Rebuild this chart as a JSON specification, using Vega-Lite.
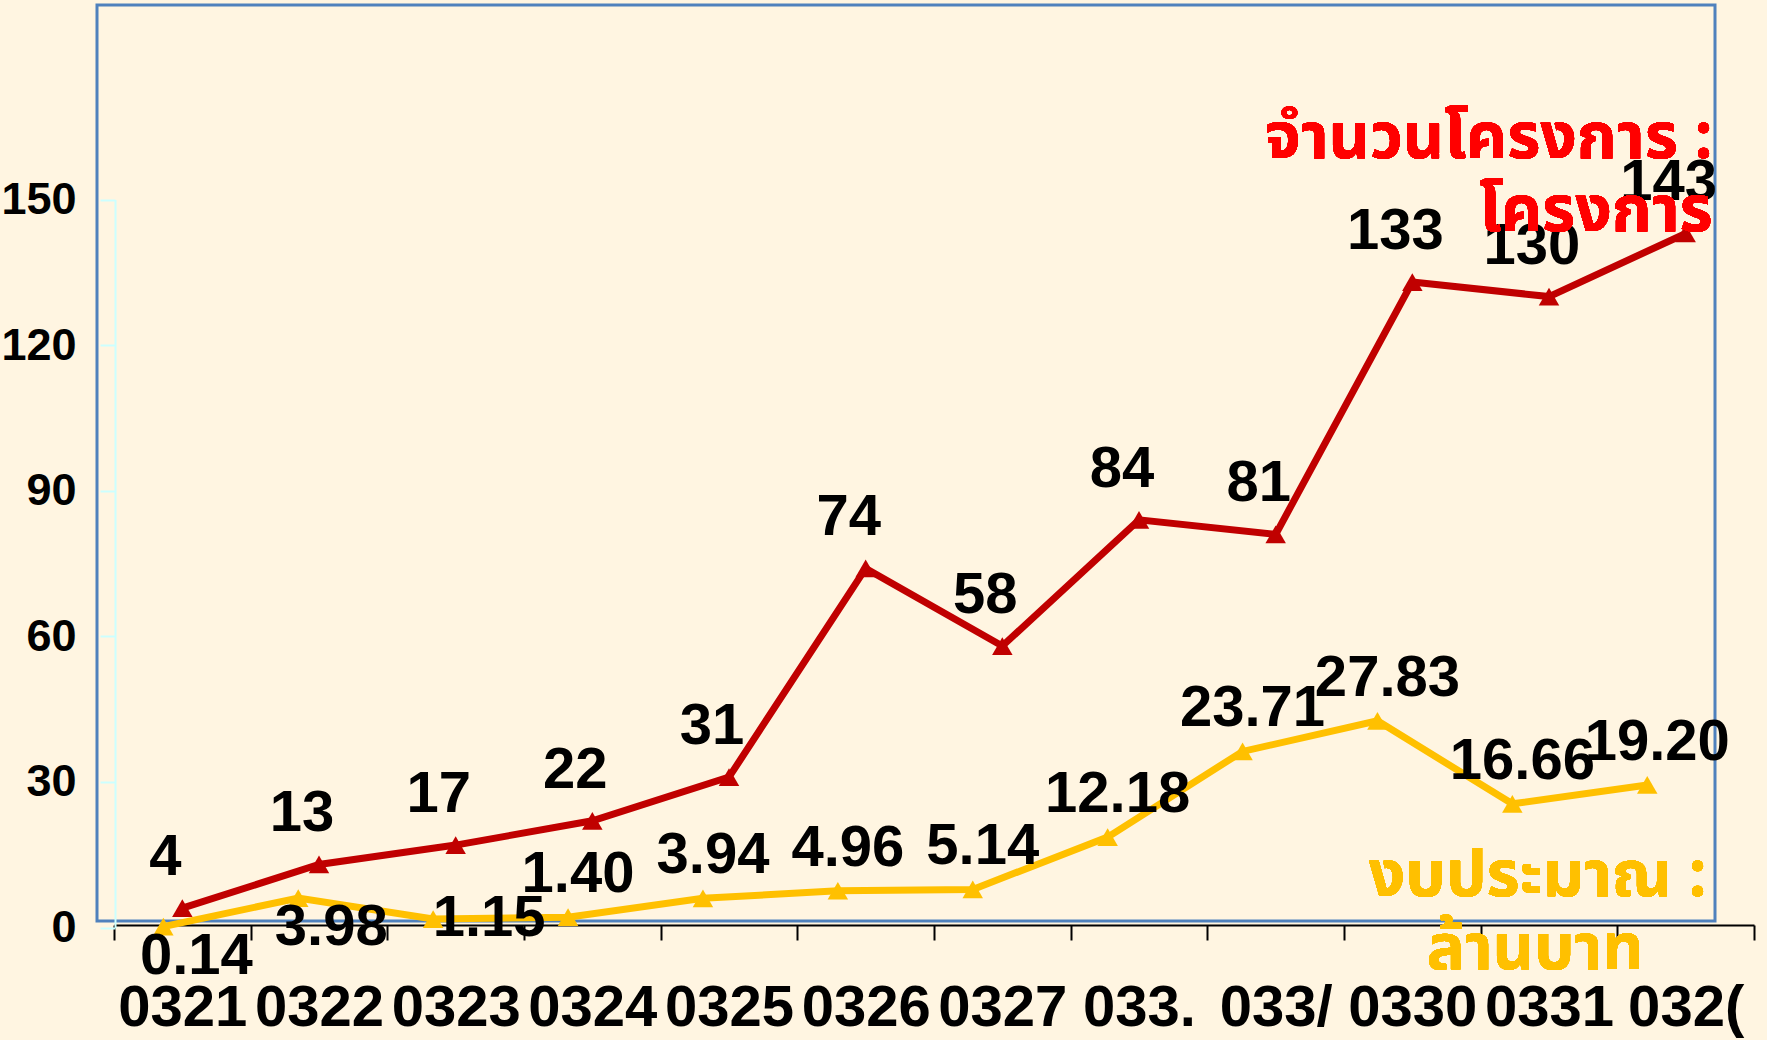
{
  "$schema": "https://vega.github.io/schema/vega-lite/v6.json",
  "width": 1618,
  "height": 916,
  "autosize": {"type": "none"},
  "padding": {"left": 97, "top": 5, "right": 52, "bottom": 119},
  "background": "#FFF5E1",
  "config": {
    "view": {"stroke": "#4F81BD", "strokeWidth": 3},
    "font": "Liberation Sans, sans-serif"
  },
  "datasets": {
    "proj": [
      {"year": "0321", "projects": 4, "label": "4"},
      {"year": "0322", "projects": 13, "label": "13"},
      {"year": "0323", "projects": 17, "label": "17"},
      {"year": "0324", "projects": 22, "label": "22"},
      {"year": "0325", "projects": 31, "label": "31"},
      {"year": "0326", "projects": 74, "label": "74"},
      {"year": "0327", "projects": 58, "label": "58"},
      {"year": "033.", "projects": 84, "label": "84"},
      {"year": "033/", "projects": 81, "label": "81"},
      {"year": "0330", "projects": 133, "label": "133"},
      {"year": "0331", "projects": 130, "label": "130"},
      {"year": "032(", "projects": 143, "label": "143"}
    ],
    "budget": [
      {"year": "0321", "budget": 0.14, "label": "0.14"},
      {"year": "0322", "budget": 3.98, "label": "3.98"},
      {"year": "0323", "budget": 1.15, "label": "1.15"},
      {"year": "0324", "budget": 1.40, "label": "1.40"},
      {"year": "0325", "budget": 3.94, "label": "3.94"},
      {"year": "0326", "budget": 4.96, "label": "4.96"},
      {"year": "0327", "budget": 5.14, "label": "5.14"},
      {"year": "033.", "budget": 12.18, "label": "12.18"},
      {"year": "033/", "budget": 23.71, "label": "23.71"},
      {"year": "0330", "budget": 27.83, "label": "27.83"},
      {"year": "0331", "budget": 16.66, "label": "16.66"},
      {"year": "032(", "budget": 19.20, "label": "19.20"}
    ]
  },
  "layer": [
    {
      "data": {"name": "proj"},
      "encoding": {
        "x": {
          "field": "year", "type": "nominal", "sort": null,
          "scale": {"type": "band", "range": [17, 1657], "paddingInner": 0, "paddingOuter": 0},
          "axis": {
            "title": null, "labelAngle": 0, "tickBand": "extent", "offset": 4,
            "domainColor": "#000000", "domainWidth": 2,
            "tickColor": "#000000", "tickWidth": 2, "tickSize": 15,
            "labelFontSize": 58, "labelFontWeight": "bold", "labelColor": "#000000",
            "labelBaseline": "middle",
            "labelPadding": 68, "labelFont": "Liberation Sans, sans-serif"
          }
        },
        "y": {
          "field": "projects", "type": "quantitative",
          "scale": {"domain": [0, 150], "range": [922.6, 194.5], "nice": false, "zero": true},
          "axis": {
            "title": null, "values": [0, 30, 60, 90, 120, 150], "grid": false, "offset": -18,
            "domainColor": "#CCFFFF", "domainWidth": 2,
            "tickColor": "#CCFFFF", "tickWidth": 2, "tickSize": 15,
            "labelFontSize": 45, "labelFontWeight": "bold", "labelColor": "#000000",
            "labelPadding": 24, "labelFont": "Liberation Sans, sans-serif"
          }
        }
      },
      "layer": [
        {"mark": {"type": "line", "color": "#C00000", "strokeWidth": 7}},
        {"mark": {"type": "point", "shape": "triangle-up", "filled": true, "color": "#C00000", "size": 420, "opacity": 1}},
        {
          "mark": {"type": "text", "fontSize": 58, "fontWeight": "bold", "color": "#000000", "dx": -17, "dy": -50, "baseline": "middle"},
          "encoding": {"text": {"field": "label"}}
        },
        {
          "mark": {"type": "text", "fontSize": 64, "fontWeight": "bold", "color": "#FF0000", "align": "right", "baseline": "alphabetic", "dx": 27, "font": "Noto Sans Thai, Loma, Garuda, Noto Sans, sans-serif"},
          "encoding": {"x": {"datum": "032("}, "y": {"datum": 158.5}, "text": {"value": "จำนวนโครงการ :"}}
        },
        {
          "mark": {"type": "text", "fontSize": 64, "fontWeight": "bold", "color": "#FF0000", "align": "right", "baseline": "alphabetic", "dx": 27, "font": "Noto Sans Thai, Loma, Garuda, Noto Sans, sans-serif"},
          "encoding": {"x": {"datum": "032("}, "y": {"datum": 143.5}, "text": {"value": "โครงการ"}}
        },
        {
          "mark": {"type": "text", "fontSize": 64, "fontWeight": "bold", "color": "#FFC000", "align": "right", "baseline": "alphabetic", "dx": 21, "font": "Noto Sans Thai, Loma, Garuda, Noto Sans, sans-serif"},
          "encoding": {"x": {"datum": "032("}, "y": {"datum": 6.5}, "text": {"value": "งบประมาณ :"}}
        },
        {
          "mark": {"type": "text", "fontSize": 64, "fontWeight": "bold", "color": "#FFC000", "align": "center", "baseline": "alphabetic", "dx": -14, "font": "Noto Sans Thai, Loma, Garuda, Noto Sans, sans-serif"},
          "encoding": {"x": {"datum": "0331"}, "y": {"datum": -8.5}, "text": {"value": "ล้านบาท"}}
        }
      ]
    },
    {
      "data": {"name": "budget"},
      "encoding": {
        "x": {
          "field": "year", "type": "nominal", "sort": null,
          "scale": {"type": "band", "range": [-1.1, 1617.7], "paddingInner": 0, "paddingOuter": 0},
          "axis": null
        },
        "y": {
          "field": "budget", "type": "quantitative",
          "scale": {"domain": [0, 98], "range": [922.6, 194.5], "nice": false, "zero": true},
          "axis": null
        }
      },
      "layer": [
        {"mark": {"type": "line", "color": "#FFC000", "strokeWidth": 7}},
        {"mark": {"type": "point", "shape": "triangle-up", "filled": true, "color": "#FFC000", "size": 420, "opacity": 1}},
        {
          "transform": [{"filter": "indexof(['0321','0322','0323'], datum.year) < 0"}],
          "mark": {"type": "text", "fontSize": 58, "fontWeight": "bold", "color": "#000000", "dx": 10, "dy": -42, "baseline": "middle"},
          "encoding": {"text": {"field": "label"}}
        },
        {
          "transform": [{"filter": "indexof(['0321','0322'], datum.year) >= 0"}],
          "mark": {"type": "text", "fontSize": 58, "fontWeight": "bold", "color": "#000000", "dx": 33, "dy": 30, "baseline": "middle"},
          "encoding": {"text": {"field": "label"}}
        },
        {
          "transform": [{"filter": "datum.year == '0323'"}],
          "mark": {"type": "text", "fontSize": 58, "fontWeight": "bold", "color": "#000000", "dx": 56, "dy": 0, "baseline": "middle"},
          "encoding": {"text": {"field": "label"}}
        }
      ]
    }
  ],
  "resolve": {"scale": {"x": "independent", "y": "independent"}}
}
